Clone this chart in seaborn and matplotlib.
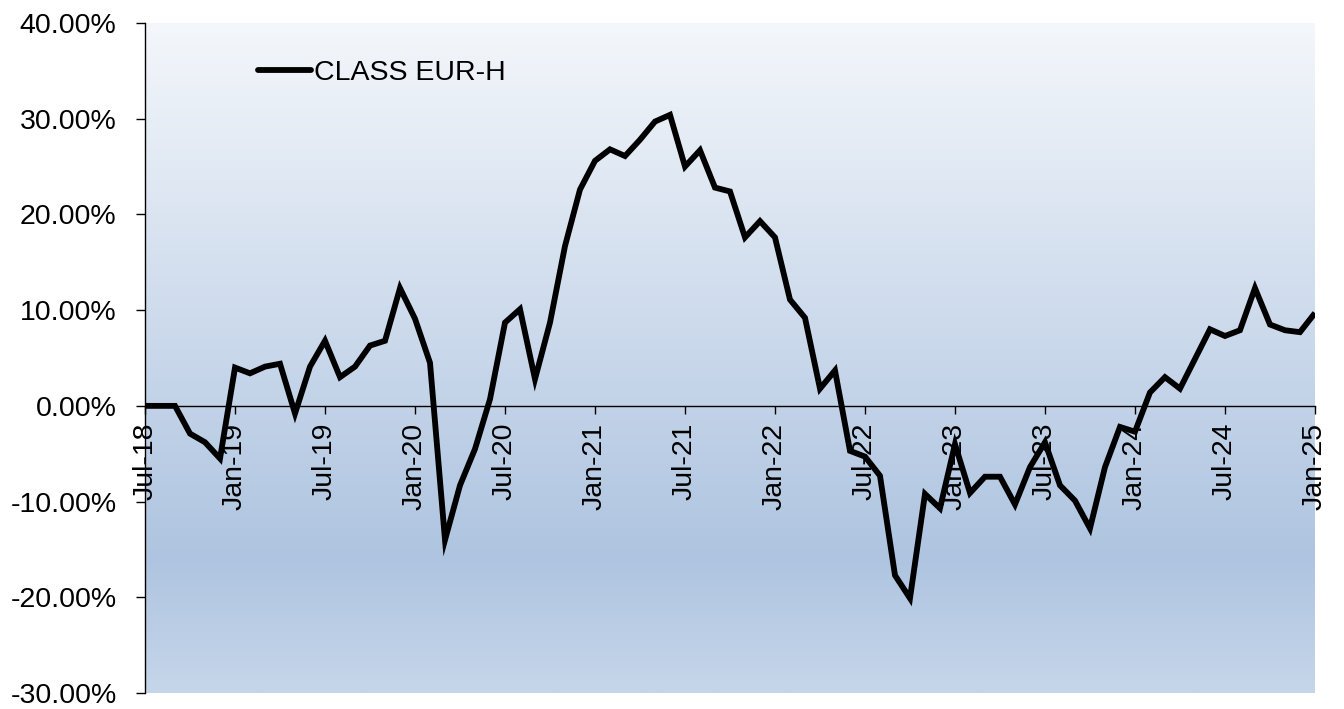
import numpy as np
import pandas as pd
import matplotlib
matplotlib.use("Agg")
import matplotlib.pyplot as plt
from matplotlib.colors import LinearSegmentedColormap
from matplotlib.ticker import FuncFormatter
import seaborn as sns

# Monthly cumulative performance, Jul-2018 .. Jan-2025 (fractions)
months = pd.date_range("2018-07-01", "2025-01-01", freq="MS")
class_eur_h = [
    0.000, 0.000, 0.000, -0.029, -0.038, -0.055, 0.040, 0.034, 0.041, 0.044,
    -0.008, 0.041, 0.068, 0.030, 0.041, 0.063, 0.068, 0.123, 0.091, 0.045,
    -0.140, -0.083, -0.045, 0.007, 0.087, 0.101, 0.028, 0.087, 0.167, 0.226,
    0.256, 0.268, 0.261, 0.278, 0.297, 0.304, 0.250, 0.267, 0.228, 0.224,
    0.176, 0.193, 0.176, 0.111, 0.092, 0.018, 0.037, -0.047, -0.053, -0.073,
    -0.177, -0.201, -0.092, -0.107, -0.040, -0.091, -0.074, -0.074, -0.103, -0.064,
    -0.038, -0.083, -0.099, -0.128, -0.064, -0.022, -0.027, 0.014, 0.030, 0.018,
    0.049, 0.080, 0.073, 0.079, 0.123, 0.085, 0.079, 0.077, 0.097,
]
series_name = "CLASS EUR-H"
y_ticks = [-0.30, -0.20, -0.10, 0.00, 0.10, 0.20, 0.30, 0.40]

df = pd.DataFrame({
    "idx": np.arange(len(months)),
    "value": class_eur_h,
    "series": series_name,
})
tick_pos = list(range(0, len(months), 6))
tick_labels = [months[i].strftime("%b-%y") for i in tick_pos]

sns.set_theme(style="white")
plt.rcParams["font.family"] = ["Liberation Sans", "DejaVu Sans"]
plt.rcParams["text.color"] = "black"

FS = 20.5

fig = plt.figure(figsize=(13.44, 7.09), dpi=100)
ax = fig.add_axes([0.1079, 0.0225, 0.8705, 0.9451])

# vertical gradient background
grad_cmap = LinearSegmentedColormap.from_list(
    "bg",
    [(0.0, (244/255, 247/255, 251/255)),
     (0.80, (174/255, 196/255, 224/255)),
     (1.0, (198/255, 214/255, 234/255))],
)
grad = np.linspace(0, 1, 256).reshape(-1, 1)
ax.imshow(grad, cmap=grad_cmap, aspect="auto", extent=[0, 1, 0, 1],
          transform=ax.transAxes, zorder=0, origin="upper")

sns.lineplot(data=df, x="idx", y="value", hue="series", palette=["black"],
             linewidth=4.2, ax=ax, zorder=3, legend=True)
for ln in ax.lines:
    ln.set_solid_joinstyle("miter")
    ln.set_solid_capstyle("butt")

ax.set_xlim(0, len(months) - 1)
ax.set_ylim(-0.30, 0.40)
ax.set_xlabel("")
ax.set_ylabel("")

for s in ("top", "right"):
    ax.spines[s].set_visible(False)
ax.spines["bottom"].set_position(("data", 0))
ax.spines["bottom"].set_color("black")
ax.spines["bottom"].set_linewidth(1.0)
ax.spines["bottom"].set_zorder(2)
ax.spines["left"].set_color("black")
ax.spines["left"].set_linewidth(1.0)

ax.set_yticks(y_ticks)
ax.yaxis.set_major_formatter(FuncFormatter(lambda v, p: f"{v*100:.2f}%"))
ax.set_xticks(tick_pos)
ax.set_xticklabels(tick_labels)

ax.tick_params(axis="y", which="major", direction="out", length=6.5, width=1,
               color="black", labelsize=FS, labelcolor="black", pad=14, left=True)
ax.tick_params(axis="x", which="major", direction="out", length=6, width=1,
               color="black", labelsize=FS, labelcolor="black", pad=6,
               bottom=True, labelrotation=90)
ax.grid(False)

leg = ax.legend(loc="upper left", bbox_to_anchor=(0.087, 0.962), frameon=False,
                fontsize=FS, handlelength=1.85, handletextpad=0.1,
                borderaxespad=0, labelcolor="black")
for h in leg.get_lines():
    h.set_linewidth(4.2)
    h.set_solid_capstyle("round")

fig.savefig("out.png", dpi=100)
